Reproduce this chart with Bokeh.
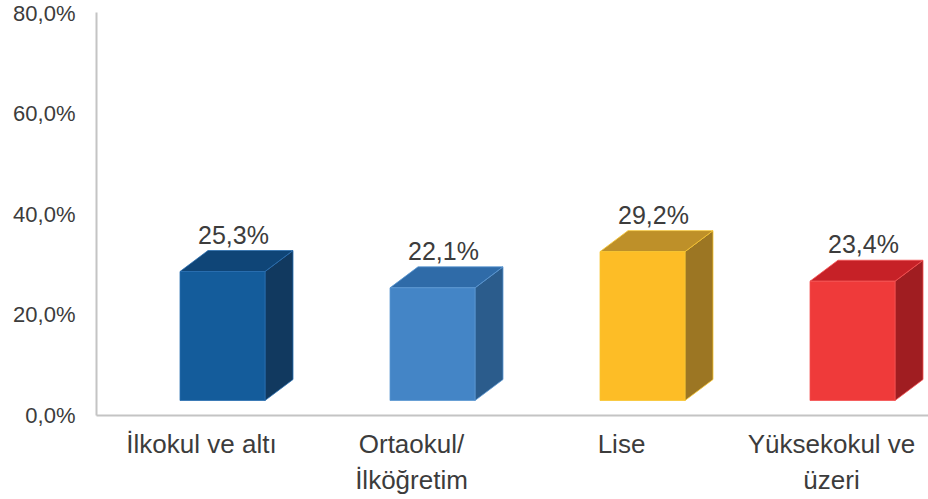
from bokeh.plotting import figure
from bokeh.models import Range1d, FixedTicker
from bokeh.core.properties import value
from bokeh.embed import file_html
from bokeh.resources import INLINE

categories = ["İlkokul ve altı", "Ortaokul/\nİlköğretim", "Lise", "Yüksekokul ve\nüzeri"]
values = [25.3, 22.1, 29.2, 23.4]
value_labels = ["25,3%", "22,1%", "29,2%", "23,4%"]
y_ticks = [0, 20, 40, 60, 80]
y_tick_labels = ["0,0%", "20,0%", "40,0%", "60,0%", "80,0%"]

front_colors = ["#145C9B", "#4485C6", "#FDBD26", "#EF3A3A"]
top_colors = ["#0F4577", "#2F6BA8", "#BE9029", "#C62127"]
side_colors = ["#11395F", "#2B5C8C", "#9C7623", "#A01D21"]
edge_colors = ["#2A6FB0", "#5A97D2", "#F7C530", "#F45050"]

FONT = "Liberation Sans"
TEXT = "#3C3C3C"

W, H = 928, 499
p = figure(width=W, height=H, output_backend="svg", toolbar_location=None,
           x_range=Range1d(0, 832 / 210), y_range=Range1d(0, 80),
           min_border_left=96, min_border_right=0, min_border_top=12, min_border_bottom=84)
p.outline_line_color = None
p.xgrid.visible = False
p.ygrid.visible = False
p.background_fill_color = "white"
p.border_fill_color = "white"

# geometry (screen-derived constants)
off = 21 / 210          # front face shift right of tick
half_w = 85 / 210 / 2   # half front width
dx = 28 / 210           # depth x
dy = 21 / 5.0375        # depth y
base = 15 / 5.0375      # floor above axis
k = 1.012               # perspective scale for front face

centers = [i + 0.5 for i in range(len(categories))]

for i, (c, v) in enumerate(zip(centers, values)):
    x0 = c + off - half_w
    x1 = c + off + half_w
    yb = base
    yt = base + v * k
    # side face
    p.patch([x1, x1, x1 + dx, x1 + dx], [yb, yt, yt + dy, yb + dy],
            fill_color=side_colors[i], line_color=edge_colors[i], line_width=0.8)
    # top face
    p.patch([x0, x1, x1 + dx, x0 + dx], [yt, yt, yt + dy, yt + dy],
            fill_color=top_colors[i], line_color=edge_colors[i], line_width=0.8)
    # front face
    p.quad(left=x0, right=x1, bottom=yb, top=yt,
           fill_color=front_colors[i], line_color=edge_colors[i], line_width=0.8)

label_x = [c + off + 11 / 210 for c in centers]
label_y = [base + v * k + dy for v in values]
p.text(x=label_x, y=label_y, text=value_labels, text_align="center",
       text_baseline="bottom", y_offset=-2, text_font=value(FONT),
       text_font_size="25px", text_color=TEXT)

# axes
for ax in (p.xaxis[0], p.yaxis[0]):
    ax.axis_line_color = "#C4C4C4"
    ax.axis_line_width = 2
    ax.major_tick_line_color = None
    ax.minor_tick_line_color = None
    ax.major_tick_out = 0
    ax.major_tick_in = 0
    ax.major_label_text_font = FONT
    ax.major_label_text_color = TEXT

p.yaxis.ticker = FixedTicker(ticks=y_ticks)
p.yaxis.major_label_overrides = {t: l for t, l in zip(y_ticks, y_tick_labels)}
p.yaxis.major_label_text_font_size = "22px"
p.yaxis.major_label_standoff = 21

p.xaxis.ticker = FixedTicker(ticks=centers)
p.xaxis.major_label_overrides = {c: l for c, l in zip(centers, categories)}
p.xaxis.major_label_text_font_size = "26px"
p.xaxis.major_label_standoff = 13

open("out.html", "w").write(file_html(p, INLINE))
